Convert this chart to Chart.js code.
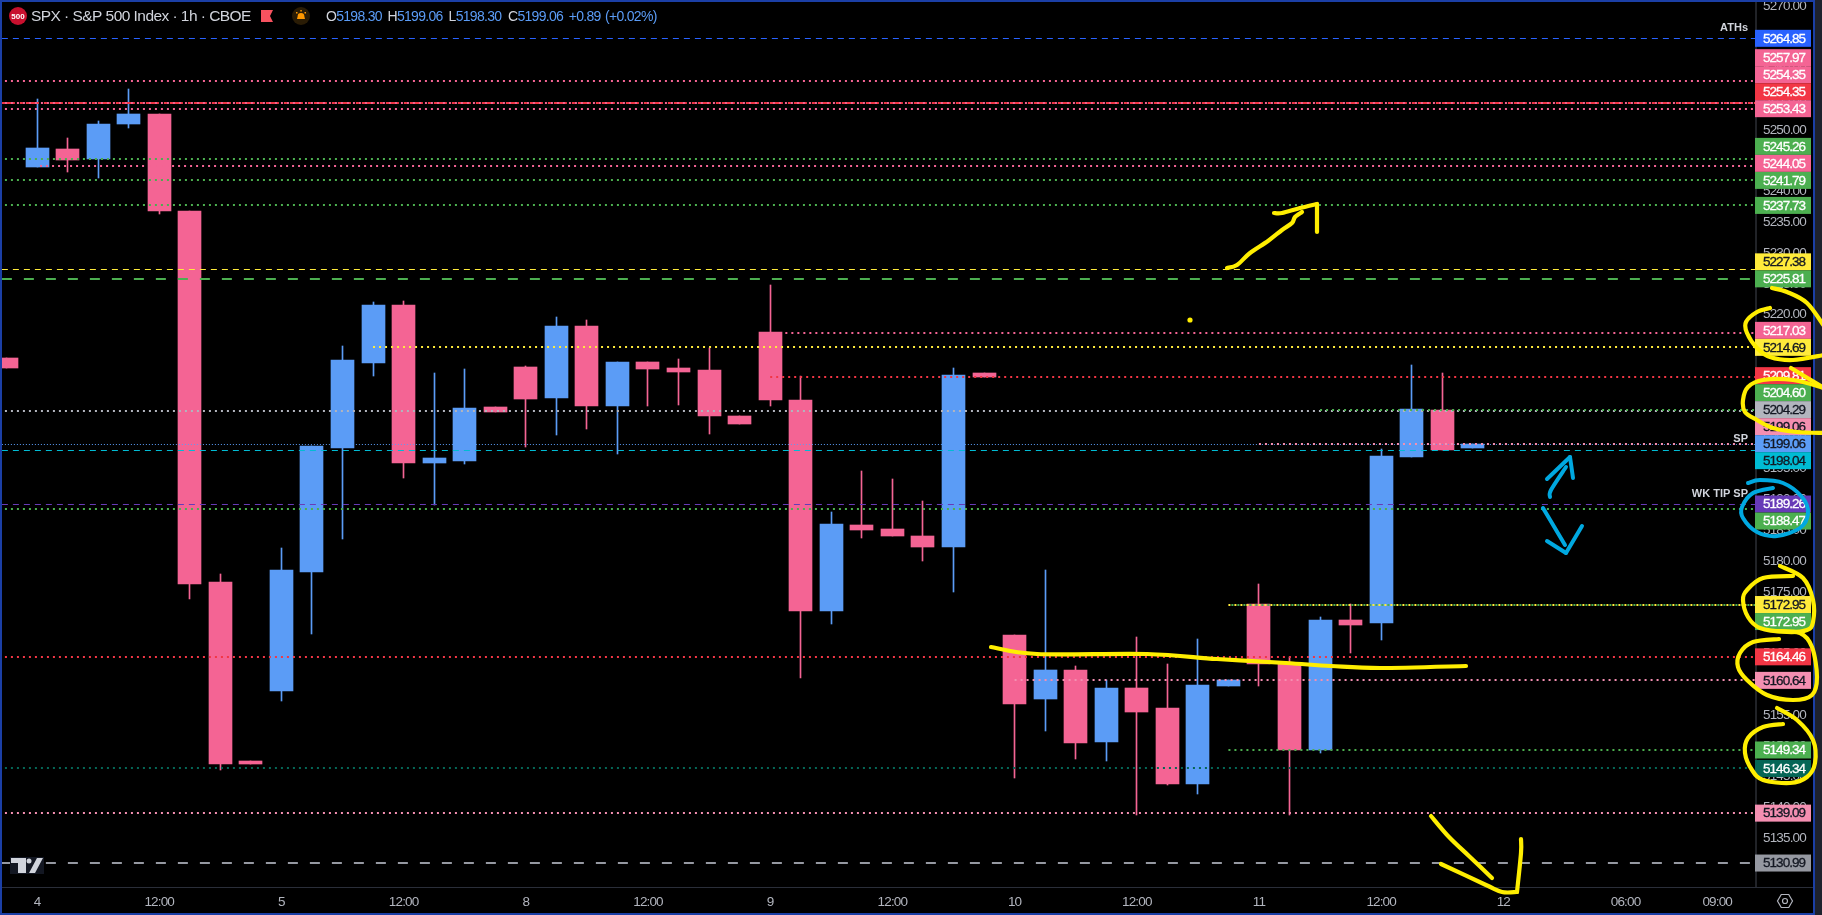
<!DOCTYPE html>
<html><head><meta charset="utf-8">
<style>html,body{margin:0;padding:0;background:#000;overflow:hidden}canvas{display:block}</style>
<script src="https://cdn.jsdelivr.net/npm/chart.js@4"></script>
</head><body><canvas id="c" width="1822" height="915"></canvas>
<script>
// ---------- data ----------
const barIndex = [-1,0,1,2,3,4,5,6,7,8,9,10,11,12,13,14,15,16,17,18,19,20,21,22,23,24,25,26,27,28,29,30,31,32,33,34,35,36,37,38,39,40,41,42,43,44,45,46,47];
const opens  = [5212.96,5243.96,5246.89,5245.26,5250.94,5252.57,5236.82,5176.61,5147.55,5158.91,5178.23,5198.36,5212.15,5221.57,5195.92,5196.25,5205.01,5211.50,5206.47,5218.16,5205.17,5212.31,5211.34,5211.02,5203.55,5217.18,5206.15,5171.90,5185.86,5185.21,5184.07,5182.29,5210.53,5168.00,5157.62,5162.32,5150.64,5159.40,5156.15,5143.82,5159.73,5173.03,5163.46,5149.34,5170.44,5169.95,5196.89,5204.52,5198.30];
const highs  = [5212.96,5255.00,5248.67,5251.43,5256.62,5252.57,5236.82,5177.90,5147.55,5182.12,5198.68,5214.91,5222.05,5222.21,5210.53,5211.18,5205.01,5211.66,5219.62,5219.13,5212.31,5212.31,5212.80,5214.59,5203.55,5224.81,5210.04,5187.97,5194.62,5193.32,5189.75,5211.34,5210.53,5168.00,5178.55,5162.97,5160.70,5167.68,5163.30,5167.35,5160.70,5176.28,5164.43,5170.92,5173.03,5198.19,5211.83,5210.53,5199.06];
const lows   = [5211.34,5243.96,5243.15,5242.18,5250.29,5236.34,5173.85,5146.09,5147.07,5157.29,5168.17,5183.59,5210.04,5193.49,5189.10,5195.76,5204.20,5198.52,5200.47,5201.44,5197.38,5205.17,5205.33,5200.63,5202.25,5205.17,5161.02,5169.79,5183.75,5184.07,5180.01,5174.98,5209.88,5144.79,5152.42,5147.88,5147.55,5138.79,5143.66,5142.20,5159.73,5159.73,5138.79,5148.85,5165.08,5167.19,5196.89,5198.03,5198.30];
const closes = [5211.34,5247.05,5245.10,5250.94,5252.57,5236.82,5176.28,5147.07,5147.07,5178.55,5198.68,5212.64,5221.57,5195.92,5196.73,5204.85,5204.20,5206.31,5218.16,5205.17,5212.31,5211.18,5210.69,5203.55,5202.25,5206.15,5171.90,5186.02,5185.05,5184.07,5182.29,5210.20,5209.88,5156.80,5162.32,5150.47,5159.40,5155.51,5143.82,5159.89,5160.70,5163.30,5149.34,5170.44,5169.63,5197.06,5204.69,5198.03,5199.06];

const levelValues = [5264.85,5257.97,5254.35,5254.35,5253.43,5245.26,5244.05,5241.79,5237.73,5227.38,5225.81,5217.03,5214.69,5209.81,5204.60,5204.29,5199.06,5199.06,5198.04,5189.26,5188.47,5172.95,5172.95,5164.46,5160.64,5149.34,5146.34,5139.09,5130.99];
const levelFromBar = [-1.15,-1.05,-1.05,-1.15,-1.05,-1.05,0.1,-1.05,-1.05,-1.15,-1.15,24.3,11,24,42,-1.05,40,-1.15,-1.15,-1.15,-1.05,39,39,-1.05,32,39,-1.05,-1.05,-1.15];

const yTickValues = [5135,5140,5145,5150,5155,5160,5165,5170,5175,5180,5185,5190,5195,5200,5205,5210,5215,5220,5225,5230,5235,5240,5245,5250,5255,5260,5265,5270];
const xTickBars = [0,4,8,12,16,20,24,28,32,36,40,44,48,52,55];
const xTickLabels = ['4','12:00','5','12:00','8','12:00','9','12:00','10','12:00','11','12:00','12','06:00','09:00'];

const headerTitle = 'SPX · S&P 500 Index · 1h · CBOE';
const ohlcLetters = ['O','H','L','C'];
const ohlcValues = ['5198.30','5199.06','5198.30','5199.06'];
const changeText = ['+0.89','(+0.02%)'];

// ---------- style ----------
const BLUE='#5b9cf6', PINK='#f46494', RED='#f23645', GREEN='#4caf50', YEL='#ffeb3b', LPINK='#f48fb1',
      GRAY='#b2b5be', GRAY2='#9598a1', ROYAL='#2962ff', CYAN='#00bcd4', PURP='#673ab7', DKG='#056656';
const levelColors=[ROYAL,PINK,PINK,RED,PINK,GREEN,PINK,GREEN,GREEN,YEL,GREEN,PINK,YEL,RED,GREEN,GRAY,LPINK,BLUE,CYAN,PURP,GREEN,YEL,GREEN,RED,LPINK,GREEN,DKG,LPINK,GRAY2];
const DOT=[2,4], THIN=[6,5], THICK=[10,12], DD=[13,5,3,3], FINE=[1,2];
const levelDash=[THIN,DOT,DOT,DD,DOT,DOT,DOT,DOT,DOT,THIN,THICK,DOT,DOT,DOT,DOT,DOT,DOT,FINE,THIN,THIN,DOT,DOT,DOT,DOT,DOT,DOT,DOT,DOT,THICK];
const levelWidth=[1,2,2,2,2,2,2,2,2,1,2,2,2,2,2,2,2,1,1,1,2,2,2,2,2,2,2,2,2];
const darkText=new Set([YEL,GRAY,GRAY2,LPINK,BLUE,CYAN]);
const pushDown=new Set([18,20,22]);
const dashShifted=new Set([22]);

const SANS='"Liberation Sans",sans-serif';
const xMin=-1.146, xMax=56.27, yMin=5127.1, yMax=5271.07;

const isUp=i=>closes[i]>=opens[i];
const candleColors=barIndex.map((_,i)=>isUp(i)?BLUE:PINK);
const wickData=barIndex.map((x,i)=>({x,y:[lows[i],highs[i]]}));
const bodyData=barIndex.map((x,i)=>({x,y:[Math.min(opens[i],closes[i]),Math.max(opens[i],closes[i])]}));

const levelSets=levelValues.map((v,i)=>({
  type:'line',order:0,
  data:[{x:levelFromBar[i],y:v},{x:xMax,y:v}],
  borderColor:levelColors[i],borderWidth:levelWidth[i],borderDash:levelDash[i],
  borderDashOffset:dashShifted.has(i)?3:0,
  pointRadius:0,fill:false,tension:0
}));

function ink(ctx,p,color,w){
  ctx.save();ctx.strokeStyle=color;ctx.lineWidth=w;ctx.lineCap='round';ctx.lineJoin='round';
  ctx.beginPath();ctx.moveTo(p[0][0],p[0][1]);
  for(let i=0;i<p.length-1;i++){
    const a=p[Math.max(0,i-1)],b=p[i],c=p[i+1],d=p[Math.min(p.length-1,i+2)];
    ctx.bezierCurveTo(b[0]+(c[0]-a[0])/6,b[1]+(c[1]-a[1])/6,c[0]-(d[0]-b[0])/6,c[1]-(d[1]-b[1])/6,c[0],c[1]);
  }
  ctx.stroke();ctx.restore();
}
const INK_Y='#ffee00', INK_B='#00a8e0';
const yellowStrokes=[
 [[1227,268],[1237,265],[1250,253],[1268,241],[1282,230],[1292,223],[1295,217],[1302,212]],
 [[1274,213],[1282,213],[1300,208],[1317,204]],
 [[1317,204],[1317,232]],
 [[991,647],[1037,654],[1147,654],[1217,659],[1286,663],[1331,666],[1380,668],[1466,666]],
 [[1431,816],[1449,837],[1470,857],[1492,878]],
 [[1441,864],[1486,885],[1502,892],[1517,892]],
 [[1517,892],[1521,853],[1521,839]],
 [[1772,288],[1787,292],[1807,303],[1824,326]],
 [[1824,355],[1793,360],[1770,357],[1757,348],[1747,333],[1746,322],[1757,312],[1770,308]],
 [[1791,368],[1824,388]],
 [[1824,388],[1793,380],[1763,380],[1748,387],[1743,400],[1745,412],[1757,420],[1773,428],[1797,432],[1824,433]],
 [[1793,576],[1763,578],[1747,590],[1743,600],[1748,617],[1760,628],[1787,632],[1807,630],[1813,622],[1813,600],[1803,578],[1780,566]],
 [[1779,639],[1753,642],[1740,653],[1738,667],[1747,680],[1767,695],[1793,700],[1812,695],[1817,677],[1812,647],[1800,633],[1775,631]],
 [[1783,724],[1763,727],[1748,738],[1745,753],[1752,770],[1763,780],[1790,783],[1807,777],[1815,763],[1813,740],[1797,720],[1777,708]]
];
const blueStrokes=[
 [[1748,483],[1760,480],[1783,483],[1802,497],[1808,513],[1800,528],[1777,536],[1757,532],[1743,518],[1742,507],[1753,493],[1773,488]],
 [[1550,497],[1551,490],[1566,467]],
 [[1547,479],[1570,457]],
 [[1570,457],[1573,478]],
 [[1543,508],[1565,545]],
 [[1547,541],[1566,553]],
 [[1566,553],[1582,526]]
];

const overlay={id:'overlay',
 afterDatasetsUpdate(chart){
  // keep every mark on whole device pixels so dotted levels and candles stay crisp
  chart.getSortedVisibleDatasetMetas().forEach(m=>{
    const ds=chart.data.datasets[m.index];
    if(m.type==='line'){
      const odd=ds.borderWidth%2===1;
      m.data.forEach(p=>{p.y=Math.round(p.y)+(odd?0.5:0);});
    }else{
      m.data.forEach(b=>{
        b.x=Math.floor(b.x)+0.5;
        b.y=Math.round(b.y);b.base=Math.round(b.base);
        if(b.base-b.y<1)b.base=b.y+1;
      });
    }
  });
 },
 beforeDraw(chart){ chart.ctx.letterSpacing='-0.85px'; },
 afterDraw(chart){
  const ctx=chart.ctx,ys=chart.scales.y;
  ctx.save();
  ctx.fillStyle='#2a2e39';ctx.fillRect(2,887,1811,1);
  ctx.fillStyle='#434651';ctx.fillRect(1755.5,0,1,887);
  ctx.letterSpacing='0px';
  ctx.fillStyle='#d1d4dc';ctx.textAlign='right';ctx.textBaseline='middle';
  ctx.font='bold 11px '+SANS;
  ctx.fillText('ATHs',1748,28);ctx.fillText('SP',1748,439);ctx.fillText('WK TIP SP',1748,494);
  // price tags
  const n=levelValues.length,yp=levelValues.map(v=>ys.getPixelForValue(v));
  let next=null;
  for(let i=n-1;i>=0;i--){ if(pushDown.has(i))continue; if(next!==null)yp[i]=Math.min(yp[i],next-17); next=yp[i]; }
  for(let i=0;i<n;i++){ if(pushDown.has(i))yp[i]=Math.max(yp[i],yp[i-1]+17); }
  ctx.textAlign='left';ctx.font='13.5px '+SANS;ctx.letterSpacing='-0.95px';
  for(let i=0;i<n;i++){
    ctx.fillStyle=levelColors[i];ctx.fillRect(1755,yp[i]-8.5,56,17);
    const col=darkText.has(levelColors[i])?'#131722':'#ffffff';
    ctx.fillStyle=col;ctx.strokeStyle=col;ctx.lineWidth=0.3;
    const t=levelValues[i].toFixed(2);
    ctx.fillText(t,1763,yp[i]+0.5);ctx.strokeText(t,1763,yp[i]+0.5);
  }
  // frame
  ctx.fillStyle='#1e222d';ctx.fillRect(1815,0,7,915);
  ctx.fillStyle='#1b3fa6';
  ctx.fillRect(0,0,1815,2);ctx.fillRect(0,0,2,915);ctx.fillRect(1813,0,2,915);ctx.fillRect(0,913,1815,2);
  // header
  ctx.letterSpacing='0px';
  ctx.fillStyle='#c8102e';ctx.beginPath();ctx.arc(18,16,9,0,7);ctx.fill();
  ctx.fillStyle='#fff';ctx.textAlign='center';ctx.font='bold 8px '+SANS;ctx.fillText('500',18,16.5);
  ctx.textAlign='left';ctx.fillStyle='#d1d4dc';ctx.font='15.5px '+SANS;ctx.letterSpacing='-0.55px';ctx.fillText(headerTitle,31,17);
  ctx.fillStyle='#f7525f';ctx.beginPath();ctx.moveTo(261,10);ctx.lineTo(273,10);ctx.lineTo(270,16);ctx.lineTo(273,22);ctx.lineTo(261,22);ctx.closePath();ctx.fill();
  ctx.fillStyle='#2a1c05';ctx.beginPath();ctx.arc(301,16,9,0,7);ctx.fill();
  ctx.fillStyle='#ff9800';ctx.beginPath();ctx.arc(301,16.5,3.4,Math.PI,0);ctx.lineTo(305,19);ctx.lineTo(297,19);ctx.closePath();ctx.fill();
  ctx.fillRect(296,12,1.5,1.5);ctx.fillRect(304.5,12,1.5,1.5);ctx.fillRect(300.3,10,1.5,1.5);
  ctx.font='14px '+SANS;ctx.letterSpacing='-0.7px';
  const ox=[326,387.5,448.6,508];
  ohlcLetters.forEach((l,i)=>{ctx.fillStyle='#d1d4dc';ctx.fillText(l,ox[i],17);const w=ctx.measureText(l).width;ctx.fillStyle=BLUE;ctx.fillText(ohlcValues[i],ox[i]+w,17);});
  ctx.fillStyle=BLUE;ctx.fillText(changeText[0],568.7,17);ctx.fillText(changeText[1],605,17);
  ctx.letterSpacing='0px';
  // TV logo
  ctx.fillStyle='#131722';ctx.fillRect(10,857,34,17);
  ctx.fillStyle='#d1d4dc';ctx.fillRect(11,858,15,5);ctx.fillRect(18,858,8,15);
  ctx.beginPath();ctx.arc(29,861,2.5,0,7);ctx.fill();
  ctx.beginPath();ctx.moveTo(37,858);ctx.lineTo(43,858);ctx.lineTo(35,873);ctx.lineTo(29,873);ctx.closePath();ctx.fill();
  // settings gear
  ctx.strokeStyle='#b2b5be';ctx.lineWidth=1.2;ctx.beginPath();
  for(let k=0;k<6;k++){const a=k*Math.PI/3;const px=1785+7.5*Math.cos(a),py=901+7.5*Math.sin(a);k?ctx.lineTo(px,py):ctx.moveTo(px,py);}
  ctx.closePath();ctx.stroke();ctx.beginPath();ctx.arc(1785,901,2.5,0,7);ctx.stroke();
  // hand-drawn ink
  yellowStrokes.forEach(s=>ink(ctx,s,INK_Y,4.2));
  blueStrokes.forEach(s=>ink(ctx,s,INK_B,4));
  ctx.fillStyle=INK_Y;ctx.beginPath();ctx.arc(1190,320,2.6,0,7);ctx.fill();
  ctx.restore();
}};

function noPad(s){s.paddingTop=0;s.paddingBottom=0;s.paddingLeft=0;s.paddingRight=0;}

new Chart(document.getElementById('c'),{
  type:'bar',
  plugins:[overlay],
  data:{datasets:[
    ...levelSets,
    {type:'bar',order:5,data:bodyData,backgroundColor:candleColors,barThickness:23,grouped:false},
    {type:'bar',order:6,data:wickData,backgroundColor:candleColors,barThickness:1,grouped:false}
  ]},
  options:{
    responsive:false,animation:false,devicePixelRatio:1,
    layout:{padding:{left:2,right:0,top:0,bottom:0}},
    plugins:{legend:{display:false},tooltip:{enabled:false},title:{display:false}},
    scales:{
      x:{type:'linear',offset:false,min:xMin,max:xMax,position:'bottom',
        grid:{display:false,drawTicks:false},border:{display:false},
        afterFit(s){s.height=28;noPad(s);},
        afterBuildTicks(s){s.ticks=xTickBars.map(v=>({value:v}));},
        ticks:{autoSkip:false,maxRotation:0,padding:7,color:'#b2b5be',font:{family:SANS,size:13.5},
          callback(v){const k=xTickBars.indexOf(v);return k<0?'':xTickLabels[k];}}
      },
      y:{type:'linear',position:'right',min:yMin,max:yMax,
        grid:{display:false,drawTicks:false},border:{display:false},
        afterFit(s){s.width=66;noPad(s);},
        afterBuildTicks(s){s.ticks=yTickValues.map(v=>({value:v}));},
        ticks:{autoSkip:false,padding:7,color:'#b2b5be',font:{family:SANS,size:13.5},
          callback(v){return Number(v).toFixed(2);}}
      }
    }
  }
});
</script></body></html>
